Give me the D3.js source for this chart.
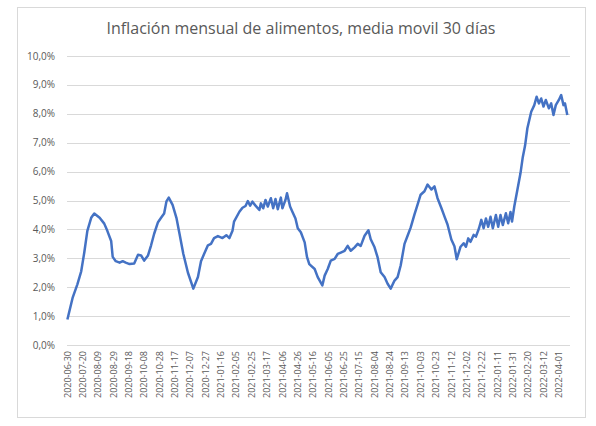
<!DOCTYPE html>
<html>
<head>
<meta charset="utf-8">
<title>Inflación mensual de alimentos</title>
<script src="https://d3js.org/d3.v7.min.js"></script>
<style>
  body { margin: 0; background: #fff; font-family: "Open Sans", "Noto Sans", sans-serif; }
  .grid line { stroke: #d9d9d9; stroke-width: 1px; }
  .tick-label { fill: #595959; font-size: 9px; }
  .ylab { font-size: 10px; }
</style>
</head>
<body>
<div id="chart"></div>
<script>
// datos: dias desde 2020-06-30 y valor (%)
var inicio = "2020-06-30";
var dias = [0, 7, 13, 18, 22, 26, 31, 35, 42, 48, 52, 57, 59, 63, 68, 72, 76, 81, 87, 92, 96, 100, 105, 109, 113, 118, 122, 126, 129, 132, 137, 142, 146, 151, 157, 164, 170, 174, 178, 183, 187, 191, 196, 202, 207, 211, 215,
  217, 224, 228, 232, 235, 238, 241, 245, 250, 252, 255, 258, 261, 265, 268, 271, 274, 278, 280, 284, 286, 290, 293, 297, 300,
  304, 309, 312, 315, 322, 326, 332, 335, 339, 343, 348, 352, 356, 361, 365, 369, 374, 378, 382, 387, 392, 395, 400, 404, 408, 413, 417, 421, 426, 430, 434, 439, 443, 447, 452, 456, 460, 465, 469, 474, 478, 482, 487, 491, 495, 500, 504, 507,
  512, 516, 519, 522, 525, 529, 532, 536, 539, 542, 545, 548, 551, 554, 558, 561, 564, 567, 571, 574, 577, 579,
  582, 586, 590, 593, 596, 599, 604, 608, 611, 614, 617, 620, 623, 627, 630, 633, 636, 640, 643, 646, 648, 651];
var valores = [0.88, 1.65, 2.1, 2.55, 3.2, 3.95, 4.4, 4.55, 4.4, 4.2, 3.95, 3.6, 3.05, 2.9, 2.85, 2.9, 2.85, 2.8, 2.82, 3.12, 3.1, 2.92, 3.1, 3.45, 3.85, 4.25, 4.4, 4.55, 4.97, 5.1, 4.85, 4.4, 3.85, 3.15, 2.5, 1.95, 2.35, 2.9, 3.15, 3.45, 3.5, 3.7, 3.77, 3.7, 3.8, 3.7, 3.95,
  4.27, 4.61, 4.75, 4.81, 4.98, 4.82, 4.96, 4.82, 4.67, 4.9, 4.73, 5.02, 4.79, 5.08, 4.73, 5.05, 4.7, 5.1, 4.73, 5.02, 5.25, 4.79, 4.61, 4.38, 4.04,
  3.9, 3.55, 3.05, 2.8, 2.63, 2.35, 2.06, 2.4, 2.63, 2.92, 2.98, 3.15, 3.2, 3.26, 3.43, 3.26, 3.38, 3.5, 3.43, 3.78, 3.97, 3.66, 3.38, 3.03, 2.52, 2.35, 2.12, 1.95, 2.23, 2.35, 2.75, 3.5, 3.78, 4.06, 4.52, 4.86, 5.2, 5.32, 5.55, 5.38, 5.49, 5.08, 4.74, 4.45, 4.17, 3.65, 3.42, 2.97,
  3.4, 3.52, 3.4, 3.69, 3.57, 3.81, 3.75, 4.04, 4.33, 4.04, 4.38, 4.09, 4.44, 4.04, 4.5, 4.09, 4.5, 4.15, 4.56, 4.21, 4.6, 4.27,
  4.8, 5.37, 5.94, 6.5, 6.9, 7.5, 8.07, 8.3, 8.59, 8.36, 8.53, 8.25, 8.48, 8.19, 8.36, 7.96, 8.3, 8.48, 8.65, 8.3, 8.36, 7.96];
var etiquetasX = ["2020-06-30", "2020-07-20", "2020-08-09", "2020-08-29", "2020-09-18", "2020-10-08", "2020-10-28", "2020-11-17", "2020-12-07", "2020-12-27", "2021-01-16", "2021-02-05", "2021-02-25", "2021-03-17", "2021-04-06", "2021-04-26", "2021-05-16", "2021-06-05", "2021-06-25", "2021-07-15", "2021-08-04", "2021-08-24", "2021-09-13", "2021-10-03", "2021-10-23", "2021-11-12", "2021-12-02", "2021-12-22", "2022-01-11", "2022-01-31", "2022-02-20", "2022-03-12", "2022-04-01"];
var ticksY = [0, 1, 2, 3, 4, 5, 6, 7, 8, 9, 10];
var totalDias = 655;

var width = 596, height = 426;
var svg = d3.select("#chart").append("svg")
  .attr("width", width)
  .attr("height", height);

// marco del grafico
svg.append("rect")
  .attr("x", 17.5).attr("y", 7.5)
  .attr("width", 568).attr("height", 410)
  .attr("fill", "#fff")
  .attr("stroke", "#d9d9d9");

svg.append("text")
  .attr("x", 301).attr("y", 34)
  .attr("text-anchor", "middle")
  .attr("fill", "#595959")
  .style("font-size", "16px")
  .text("Inflación mensual de alimentos, media movil 30 días");

var x = d3.scaleLinear().domain([-0.5, totalDias - 0.5]).range([67, 570]);
var y = d3.scaleLinear().domain([0, 10]).range([345, 56]);

var parse = d3.timeParse("%Y-%m-%d");
var t0 = parse(inicio);

// lineas de cuadricula
var grid = svg.append("g").attr("class", "grid");
grid.selectAll("line")
  .data(ticksY)
  .enter().append("line")
  .attr("x1", 67).attr("x2", 570)
  .attr("y1", function(d) { return Math.round(y(d)) + 0.5; })
  .attr("y2", function(d) { return Math.round(y(d)) + 0.5; });

// etiquetas eje y
var fmt = d3.format(".1f");
svg.selectAll(".ylab")
  .data(ticksY)
  .enter().append("text")
  .attr("class", "tick-label ylab")
  .attr("x", 55)
  .attr("y", function(d) { return y(d); })
  .attr("dy", "0.35em")
  .attr("text-anchor", "end")
  .text(function(d) { return fmt(d).replace(".", ",") + "%"; });

// etiquetas eje x (rotadas)
svg.selectAll(".xlab")
  .data(etiquetasX)
  .enter().append("text")
  .attr("class", "tick-label xlab")
  .attr("transform", function(d) {
    var i = d3.timeDay.count(t0, parse(d));
    return "translate(" + x(i) + ",351) rotate(-90)";
  })
  .attr("dy", "0.35em")
  .attr("text-anchor", "end")
  .text(function(d) { return d; });

var puntos = dias.map(function(d, i) { return [d, valores[i]]; });
var linea = d3.line()
  .x(function(d) { return x(d[0]); })
  .y(function(d) { return y(d[1]); });

svg.append("path")
  .datum(puntos)
  .attr("fill", "none")
  .attr("stroke", "#4472c4")
  .attr("stroke-width", 2.5)
  .attr("stroke-linejoin", "round")
  .attr("d", linea);
</script>
</body>
</html>
